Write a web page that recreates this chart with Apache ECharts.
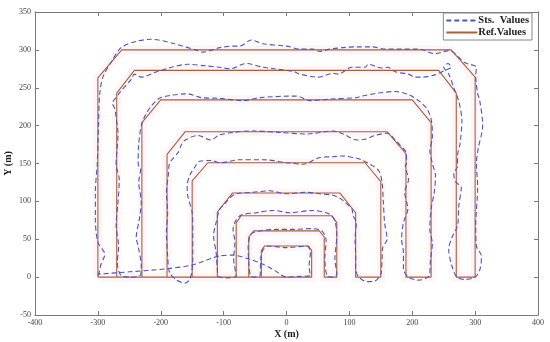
<!DOCTYPE html>
<html>
<head>
<meta charset="utf-8">
<script src="https://cdn.jsdelivr.net/npm/echarts@6/dist/echarts.min.js"></script>
<style>html,body{margin:0;padding:0;background:#fff}#c{width:550px;height:342px}</style>
</head>
<body>
<div id="c"></div>
<script>
// Reference path (x, y) in metres
var refX = [-300,-300,-262,262,300,300, 270,270,242,-242,-270,-270, -230,-230,-200,200,230,230, 190,190,160,-161,-190,-190, -150,-150,-125,125,150,150, 110,110,85,-86,-110,-110, -80,-80,-72,72,80,80, 60,60,52,-52,-60,-60, -40,-40,-35,35,40,40, -300];
var refY = [0,263,300,300,264,0, 0,243,273,273,243,0, 0,204,234,234,204,0, 0,163,192,192,162,0, 0,127,151,151,126,0, 0,85,111,111,86,0, 0,72,81,81,72,0, 0,53,61,61,53,0, 0,35,41,41,35,0, 0];

// Estimated path (x, y) in metres
var estX = [-299,-295,-289,-300,-304,-304,-301,-299,-297,-292,-278,-263,-240,-215,-178,-141,-133,-106,-85,-74,-56,-37,0,21,42,53,69,90,112,136,157,210,236,258,284,302,301,304,307,312,305,302,304,301,302,310,308,300,284,271,
 263,258,263,272,274,278,269,266,272,272,276,279,274,266,258,250,257,262,252,236,215,204,194,173,161,151,130,125,104,82,74,50,21,13,0,-19,-37,-64,-90,-106,-130,-157,-183,-210,-231,-242,-247,-265,-273,-277,-273,-271,-268,-271,-266,-268,-271,-267,-269,-263,-247,-232,
 -231,-236,-239,-234,-231,-235,-232,-236,-235,-231,-225,-215,-202,-184,-157,-136,-106,-69,-42,16,37,69,112,120,146,173,194,213,225,231,232,228,232,237,235,230,228,232,229,227,210,194,186,
 186,183,186,193,188,194,189,191,190,183,173,160,141,125,112,90,74,32,-11,-53,-106,-120,-141,-161,-167,-172,-186,-188,-191,-189,-191,-189,-186,-176,-162,-154,-150,
 -149,-149,-150,-157,-158,-154,-146,-138,-120,-106,-74,-37,0,26,53,74,87,112,119,135,147,152,154,156,160,153,152,150,141,128,115,110,
 110,109,111,106,104,98,87,74,53,32,0,-27,-53,-80,-90,-98,-106,-112,-116,-112,-110,-108,-95,-80,
 -84,-82,-85,-81,-72,-48,-21,5,42,69,77,80,77,80,72,65,
 61,63,56,37,11,-16,-42,-56,-61,-60,-57,-50,-42,
 -41,-38,-29,0,32,38,36,38,21,0,
 -19,-40,-64,-85,-106,-150,-191,-250,-300];
var estY = [2,17,30,46,77,112,150,200,242,264,285,303,311,314,308,299,297,303,305,305,313,308,305,301,301,298,301,303,304,304,301,301,295,299,283,277,266,242,235,200,170,150,120,68,41,28,11,0,-3,0,
 15,37,52,68,94,118,126,136,147,160,176,206,232,250,268,277,282,277,273,267,264,264,268,271,277,276,281,277,277,268,269,264,268,271,273,275,277,282,275,277,279,281,277,270,264,268,261,244,235,230,222,211,189,149,129,99,68,41,19,2,0,3,
 15,41,52,77,99,125,143,149,176,200,213,226,236,240,242,237,236,233,237,239,233,235,237,239,243,245,241,231,220,204,184,167,150,134,112,90,63,44,24,2,-4,0,11,
 33,50,72,90,112,129,147,150,165,172,181,190,187,182,181,189,193,189,191,193,188,181,187,181,175,165,150,134,112,85,59,28,6,-3,-8,-3,11,
 33,59,85,107,121,134,145,153,154,151,155,155,151,149,158,159,160,157,155,148,140,125,99,72,50,39,24,4,-5,-6,0,11,
 28,50,72,81,90,95,103,108,110,112,110,114,112,110,105,97,90,72,55,33,11,1,-1,1,
 24,46,63,74,82,85,88,85,88,83,74,55,24,4,0,1,
 24,48,61,64,63,63,61,57,41,19,2,0,2,
 24,35,41,39,41,33,15,2,1,0,
 9,18,25,29,28,16,11,7,4];

var xTicks = [-400,400,100];
var yTicks = [-50,350,50];

function pairs(xs, ys){ var o=[]; for(var i=0;i<xs.length;i++) o.push([xs[i], ys[i]]); return o; }

var serif = 'Liberation Serif';
var axisCol = '#7a7a7a';
var estCol = '#4b58b6';
var refCol = '#a5603c';
var chart = echarts.init(document.getElementById('c'), null, {renderer:'canvas'});
var baseAxis = {
  type:'value', axisLine:{show:true, onZero:false, lineStyle:{color:axisCol, width:1}},
  axisTick:{show:true, inside:true, length:4, lineStyle:{color:axisCol}},
  splitLine:{show:false}
};
chart.setOption({
  animation:false,
  backgroundColor:'#fff',
  grid:{left:35, right:12, top:12, bottom:27, containLabel:false, outerBoundsMode:'none'},
  xAxis:[
    Object.assign({}, baseAxis, {min:xTicks[0], max:xTicks[1], interval:xTicks[2], position:'bottom',
      axisLabel:{fontFamily:serif, fontSize:8, color:'#444', margin:4},
      name:'X (m)', nameLocation:'middle', nameGap:14, nameMoveOverlap:false,
      nameTextStyle:{fontFamily:serif, fontWeight:'bold', fontSize:10, color:'#222'}}),
    Object.assign({}, baseAxis, {min:xTicks[0], max:xTicks[1], interval:xTicks[2], position:'top', axisLabel:{show:false}})
  ],
  yAxis:[
    Object.assign({}, baseAxis, {min:yTicks[0], max:yTicks[1], interval:yTicks[2], position:'left',
      axisLabel:{fontFamily:serif, fontSize:8, color:'#444', margin:4},
      name:'Y (m)', nameLocation:'middle', nameGap:22, nameRotate:90, nameMoveOverlap:false,
      nameTextStyle:{fontFamily:serif, fontWeight:'bold', fontSize:10, color:'#222'}}),
    Object.assign({}, baseAxis, {min:yTicks[0], max:yTicks[1], interval:yTicks[2], position:'right', axisLabel:{show:false}})
  ],
  legend:{
    data:[{name:'Sts.  Values', itemStyle:{opacity:0}}, {name:'Ref.Values', itemStyle:{opacity:0}}],
    orient:'vertical', right:18, top:13,
    backgroundColor:'#fff', borderColor:'#888', borderWidth:1, borderRadius:0,
    padding:[2,3,2,2], itemGap:1, itemWidth:31, itemHeight:8,
    textStyle:{fontFamily:serif, fontWeight:'bold', fontSize:10.5, lineHeight:10, color:'#222', padding:[0,0,0,-4]}
  },
  series:[
    {name:'band', type:'line', data:pairs(refX, refY), symbol:'none', silent:true,
     lineStyle:{color:'rgba(250,215,230,0.25)', width:9, join:'miter'}, z:1},
    {name:'Ref.Values', type:'line', data:pairs(refX, refY), symbol:'none',
     lineStyle:{color:refCol, width:1.1}, itemStyle:{color:refCol}, z:2},
    {name:'Sts.  Values', type:'line', data:pairs(estX, estY), symbol:'none', smooth:0.3,
     lineStyle:{color:estCol, width:1.1, type:[5,3]}, itemStyle:{color:estCol}, z:3}
  ]
});
</script>
</body>
</html>
